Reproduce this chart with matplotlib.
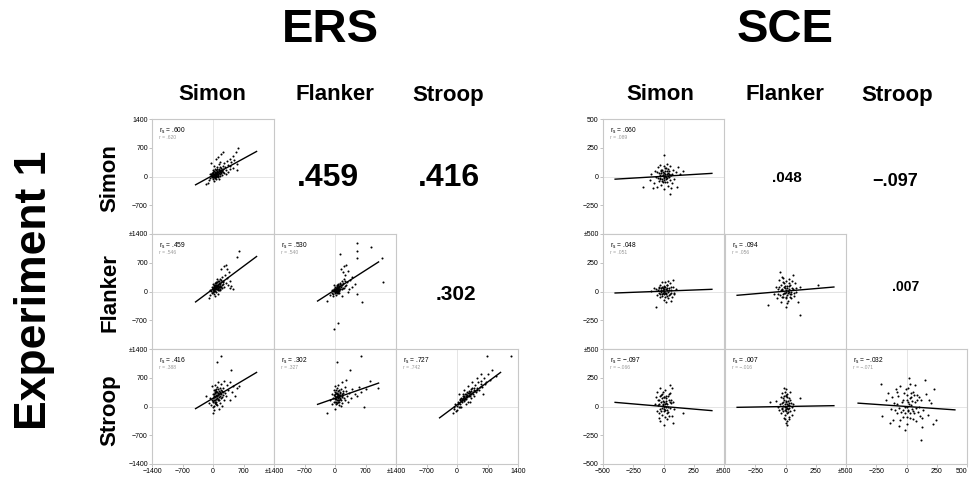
import matplotlib
matplotlib.use("Agg")
import matplotlib.pyplot as plt

plt.rcParams['font.family'] = ['Liberation Sans', 'DejaVu Sans']

tasks = ["Simon", "Flanker", "Stroop"]

# ---- ERS: points (x, y) per panel ----
ers_simon_simon = [(-100, -80), (-60, -40), (-30, 20), (0, -20), (20, 50), (40, 10), (60, 80), (80, 40),
                   (100, 120), (120, 60), (140, 150), (160, 100), (180, 200), (200, 140), (220, 260), (240, 180),
                   (260, 320), (280, 220), (300, 160), (320, 380), (350, 280), (380, 430), (400, 250), (420, 350),
                   (450, 500), (480, 400), (520, 600), (580, 690), (240, 600), (-50, 320), (0, 150), (30, -100),
                   (70, -50), (110, -10), (150, 20), (-20, 80), (10, 110), (50, 180), (90, 230), (130, 300),
                   (170, 360), (-80, 60), (-120, -150), (-150, -180), (200, 40), (250, 90), (300, 60), (350, 120),
                   (400, 180), (30, 250), (70, 420), (110, 480), (190, 550), (460, 200), (540, 150), (560, 300),
                   (0, 0), (20, 30), (40, -30), (60, 20), (80, 90), (100, 50), (120, 10), (140, -60), (-10, -60),
                   (-40, 10), (10, 60), (50, 100), (90, 140), (130, 190),
                   (5, 10), (15, -10), (25, 40), (35, 0), (45, 60), (55, 30), (65, -10), (75, 70), (85, 20),
                   (95, 90), (105, 10), (115, 110), (125, 40), (135, 90), (145, 170), (155, 60), (165, 130),
                   (175, 80), (185, 150), (195, 110), (-15, 30), (-25, -20), (-35, 50), (0, 90), (30, 130),
                   (60, 150), (90, 180), (150, 220), (210, 170), (230, 120)]
ers_flanker_simon = [(-100, -150), (-60, -80), (-40, 20), (-20, -40), (0, 60), (10, 0), (20, 100), (30, 40),
                     (40, 150), (50, 80), (60, -20), (70, 120), (80, 200), (90, 60), (100, 160), (110, 30),
                     (120, 250), (130, 110), (140, 180), (150, 70), (160, 300), (170, 140), (180, 220), (200, 90),
                     (210, 350), (220, 180), (240, 260), (260, 120), (280, 400), (300, 200), (320, 330), (340, 150),
                     (360, 480), (380, 260), (400, 90), (420, 130), (450, 60), (250, 620), (300, 640), (330, 560),
                     (190, 560), (600, 990), (540, 830), (30, -60), (-30, 110), (0, 180), (60, 230), (100, 300),
                     (-80, 40), (50, -100), (120, -50), (15, 20), (35, 70), (55, 10), (75, 50), (95, 100),
                     (115, 80), (135, 40), (65, 170), (25, 130), (145, 260), (165, 30), (-10, -10), (5, 40),
                     (5, 80), (15, 120), (25, 60), (45, 110), (65, 90), (85, 140), (105, 60), (125, 150),
                     (145, 100), (165, 190), (185, 120), (205, 160), (225, 230), (-5, 70), (20, 170), (40, 200),
                     (80, 100), (110, 130), (130, 210), (150, 140), (170, 100), (190, 280), (60, 130), (100, 220)]
ers_flanker_flanker = [(-176, -223), (-120, -80), (-80, -40), (-60, 30), (-40, -60), (-20, 60), (0, 0), (10, 100),
                       (20, -20), (30, 50), (40, 130), (50, 10), (60, 80), (70, 180), (80, 40), (90, 110),
                       (100, -30), (110, 200), (120, 70), (140, 150), (160, 250), (180, 90), (200, 300), (220, 130),
                       (240, 400), (260, 170), (280, 220), (300, 500), (320, 60), (350, 280), (400, 350), (450, 180),
                       (500, -50), (614, -247), (77, -774), (-15, -919), (115, 911), (514, 1170), (828, 1090),
                       (514, 992), (514, 806), (1074, 806), (1097, 239), (130, 560), (200, 620), (250, 650),
                       (190, 480), (-30, 150), (5, 40), (15, -80), (25, 20), (35, -40), (45, 90), (55, 160),
                       (65, -10), (75, 30), (85, 60), (95, 20), (-10, -30), (-50, -120), (150, -100), (300, 0),
                       (380, 100),
                       (0, 60), (10, 30), (20, 90), (30, 10), (40, 70), (50, 120), (60, 40), (70, 100), (80, 150),
                       (90, 70), (100, 130), (110, 60), (-20, 10), (-30, 70), (-40, 20), (120, 190), (130, 100),
                       (150, 60), (170, 150), (190, 200), (210, 80), (230, 260), (45, -20), (75, -40)]
ers_stroop_simon = [(-100, 80), (-60, 200), (-40, 40), (-20, 150), (0, 0), (0, 300), (10, 100), (20, 400),
                    (30, -80), (30, 220), (40, 520), (50, 160), (50, 320), (60, 60), (60, 250), (70, 420),
                    (80, 120), (80, 350), (90, 200), (100, 480), (100, 30), (110, 280), (120, 150), (120, 600),
                    (130, 380), (140, 240), (150, 80), (160, 450), (170, 320), (180, 200), (190, 550), (200, 20),
                    (200, 380), (220, 280), (240, 450), (250, 150), (260, 620), (280, 320), (300, 250), (320, 520),
                    (350, 400), (380, 150), (400, 600), (430, 350), (460, 500), (500, 250), (550, 450), (600, 500),
                    (406, 887), (184, 1235), (100, 1073), (-30, 500), (10, -150), (25, 250), (45, 100), (65, 380),
                    (85, 280), (105, 330), (-150, 260), (140, -50),
                    (20, 150), (30, 300), (40, 230), (50, 80), (55, 400), (60, 180), (70, 280), (75, 60),
                    (90, 360), (95, 250), (110, 190), (115, 420), (130, 300), (145, 170), (150, 350), (165, 260),
                    (175, 400), (190, 300), (210, 220), (230, 350), (0, 200), (-10, 130), (15, 20), (35, 350)]
ers_stroop_flanker = [(-184, -150), (-120, 150), (-80, 300), (-60, 50), (-40, 200), (-20, 400), (0, 100), (0, 250),
                      (10, -50), (20, 330), (30, 180), (40, 450), (50, 80), (60, 280), (70, 150), (80, 520),
                      (90, 220), (100, 30), (110, 350), (120, 180), (130, 420), (150, 260), (160, 80), (180, 320),
                      (200, 200), (220, 480), (240, 150), (260, 380), (280, 250), (300, 100), (330, 330), (360, 200),
                      (400, 420), (450, 300), (500, 250), (550, 480), (660, -12), (813, 620), (990, 458),
                      (606, 1227), (46, 1081), (353, 887), (150, 600), (250, 640), (-30, 120), (15, 60), (35, 300),
                      (55, 230), (75, 380), (95, 120), (115, 270), (135, 20), (-10, 500), (700, 420), (600, 350),
                      (0, 180), (10, 300), (20, 120), (25, 220), (30, 400), (40, 250), (45, 150), (50, 330),
                      (60, 200), (65, 100), (70, 300), (80, 250), (85, 400), (90, 160), (100, 280), (110, 200),
                      (120, 330), (140, 160), (150, 300), (170, 240), (190, 380), (-20, 280), (-10, 200), (5, 350)]
ers_stroop_stroop = [(-100, -150), (-60, -50), (-40, 50), (-20, -100), (0, 20), (20, 100), (40, -20), (60, 150),
                     (80, 60), (100, 200), (120, 100), (140, 250), (160, 130), (180, 300), (200, 180), (220, 350),
                     (240, 220), (260, 120), (280, 380), (300, 260), (320, 200), (340, 450), (360, 300), (380, 400),
                     (400, 250), (420, 520), (440, 350), (460, 450), (480, 600), (500, 400), (540, 550), (580, 480),
                     (620, 700), (660, 600), (700, 800), (750, 650), (800, 900), (900, 750), (679, 1235),
                     (1231, 1235), (150, 400), (250, 500), (350, 600), (450, 700), (100, 0), (200, 50), (300, 120),
                     (50, 300), (120, 180), (170, 220), (230, 280), (270, 330), (330, 380), (130, 300), (210, 260),
                     (290, 310), (70, 0), (10, -80), (-80, 0), (550, 800), (600, 300),
                     (50, 80), (90, 130), (110, 150), (130, 200), (150, 160), (170, 250), (190, 210), (210, 300),
                     (230, 250), (250, 330), (270, 250), (290, 350), (310, 300), (330, 430), (370, 350), (390, 450),
                     (410, 380), (470, 400), (520, 480), (560, 620), (640, 550), (30, 50), (80, 180), (180, 180)]

# ---- SCE ----
sce_simon_simon = [(-170, -88), (-115, -30), (-100, 20), (-80, -60), (-70, 50), (-60, 0), (-50, -90), (-45, 80),
                   (-40, 30), (-35, -40), (-30, 100), (-25, 10), (-20, -70), (-15, 60), (-10, -20), (-5, 40), (0, 0),
                   (0, -110), (5, 90), (10, 20), (15, -50), (20, 70), (25, -10), (30, 110), (35, 30), (40, -80),
                   (45, 50), (50, -30), (55, 90), (60, 10), (70, -60), (80, 60), (90, -20), (100, 40), (110, -90),
                   (120, 80), (140, 20), (160, 50), (3, 187), (57, -155), (-90, -100), (-20, 30), (8, -30), (12, 50),
                   (-8, 15), (18, -5), (28, 45), (-28, -15), (38, 5), (65, -100),
                   (-30, -20), (-18, 45), (-12, -35), (-3, 10), (2, -15), (6, 30), (14, 5), (22, -20), (26, 25),
                   (32, -45), (42, 20), (48, -5), (-42, -10), (-6, -50), (10, 70), (-24, 55), (34, 65), (52, 15),
                   (-55, 35), (70, 20)]
sce_flanker_simon = [(-60, -135), (-60, 20), (-50, -30), (-40, 40), (-35, -10), (-30, 60), (-25, -50), (-20, 10),
                     (-15, 80), (-10, -20), (-5, 30), (0, 0), (0, -70), (5, 50), (10, -10), (15, 81), (20, 20),
                     (25, -40), (30, 60), (35, 0), (40, -60), (45, 30), (50, -20), (55, 70), (60, 10), (70, -50),
                     (80, 40), (90, -10), (104, 20), (76, 97), (-80, 30), (-100, 5), (20, -93), (40, 90), (-12, 35),
                     (8, 25), (18, -25), (28, 15), (-22, -5), (62, -80),
                     (-45, 10), (-28, -20), (-18, 30), (-8, -10), (-2, 15), (3, -25), (7, 5), (12, 40), (22, -10),
                     (32, 30), (42, -30), (48, 10), (58, -15), (66, 35), (-35, 30), (13, -45), (-14, -40), (25, 55),
                     (85, -25), (0, 40)]
sce_flanker_flanker = [(-146, -115), (-97, -20), (-80, 40), (-70, -60), (-60, 20), (-50, 100), (-45, -30), (-40, 60),
                       (-35, -90), (-30, 10), (-25, 130), (-20, -50), (-15, 70), (-10, -10), (-5, 30), (0, 0),
                       (0, -135), (5, 90), (10, -30), (15, 50), (20, -80), (25, 20), (30, 110), (35, -20), (40, 60),
                       (45, -60), (50, 30), (60, 140), (70, -40), (80, 70), (90, 0), (100, -90), (122, 40),
                       (-48, 170), (266, 54), (116, -207), (10, -100), (-20, 120), (55, 95), (18, 5), (-8, 45),
                       (28, -5), (38, -45), (-28, 25),
                       (-38, 15), (-22, -25), (-12, 40), (-2, -15), (3, 15), (8, -45), (13, 30), (22, -10), (32, 45),
                       (42, 0), (48, -25), (-32, -45), (-52, 40), (62, 20), (72, -10), (-18, 80), (25, 75), (0, -60),
                       (-60, -20), (85, 30)]
sce_stroop_simon = [(-74, 20), (-60, 80), (-55, -40), (-50, 130), (-45, 10), (-40, -100), (-35, 60), (-30, 160),
                    (-25, -20), (-20, 40), (-15, 110), (-10, -70), (-5, 20), (0, 0), (0, -160), (5, 80), (10, 140),
                    (15, -30), (20, 50), (25, -110), (30, 20), (35, 90), (40, -50), (45, 60), (50, -10), (55, 120),
                    (60, 30), (70, -80), (80, 40), (90, -20), (57, 187), (71, 158), (164, -59), (76, -146),
                    (-12, 70), (8, -40), (18, 95), (28, -60), (-22, 100), (38, 0), (-30, -130), (12, 25), (-2, 50),
                    (-38, 20), (-28, 90), (-18, -40), (-8, 10), (-4, 130), (3, -20), (7, 40), (13, -90), (17, 30),
                    (23, 70), (33, -30), (43, 110), (48, -80), (52, 40), (-48, 60), (-15, -10), (0, 80), (22, -5),
                    (65, 60), (-35, -60)]
sce_stroop_flanker = [(-127, 42), (119, 71), (-45, 20), (-40, -60), (-35, 80), (-30, -10), (-25, 120), (-20, 40),
                      (-15, -100), (-10, 60), (-5, -30), (0, 0), (0, 150), (5, -140), (5, 90), (10, 20), (10, -60),
                      (15, 110), (20, -20), (20, 50), (25, -90), (30, 70), (30, -10), (35, 130), (40, -40), (45, 30),
                      (50, -70), (-60, 0), (-80, 50), (70, -30), (-10, 158), (10, -160), (2, 100), (-2, -110),
                      (8, 35), (-8, -5), (12, -15), (-18, 5), (25, 10), (60, 20),
                      (-28, 30), (-22, -40), (-12, 90), (-7, 20), (-3, -70), (3, 50), (7, -20), (13, 80), (17, -50),
                      (22, 10), (28, -110), (33, 30), (-33, -20), (-18, 70), (0, -40), (15, -130), (-5, 130),
                      (40, 60), (-50, -30), (55, 0)]
sce_stroop_stroop = [(-209, 193), (151, 230), (20, 245), (116, -290), (220, -152), (-200, -80), (-170, 60),
                     (-150, 120), (-130, -20), (-120, 80), (-110, -120), (-100, 30), (-90, 150), (-80, -60),
                     (-70, 90), (-60, -10), (-50, 180), (-40, 40), (-30, -90), (-20, 120), (-10, 0), (0, -150),
                     (0, 60), (10, 160), (15, -40), (20, 20), (25, 200), (30, -100), (40, 80), (45, -20), (50, 130),
                     (60, -60), (70, 40), (80, -130), (90, 100), (100, 0), (110, -80), (120, 60), (140, -30),
                     (160, 110), (180, -70), (200, 30), (230, 150), (240, -120), (-60, -170), (-10, -200), (70, 190),
                     (130, -180), (-140, -140), (190, 60), (5, 100), (-25, -30), (35, 10), (55, -110), (-45, -50),
                     (85, 60), (0, 0),
                     (-80, 20), (-50, -120), (-30, 60), (-15, -60), (-5, 150), (5, -90), (15, 40), (25, -60),
                     (35, 120), (45, 50), (55, -40), (65, 100), (75, -10), (95, -50), (105, 80), (125, -100),
                     (-95, -30), (-75, 130), (10, -30), (30, 70)]

# correlations: (row, col) -> text
ers_rs = {(0, 0): ".600", (1, 0): ".459", (1, 1): ".530", (2, 0): ".416", (2, 1): ".302", (2, 2): ".727"}
ers_r = {(0, 0): ".620", (1, 0): ".546", (1, 1): ".540", (2, 0): ".388", (2, 1): ".327", (2, 2): ".742"}
sce_rs = {(0, 0): ".060", (1, 0): ".048", (1, 1): ".094", (2, 0): "\u2212.097", (2, 1): ".007", (2, 2): "\u2212.032"}
sce_r = {(0, 0): ".089", (1, 0): ".051", (1, 1): ".056", (2, 0): "\u2212.066", (2, 1): "\u2212.016", (2, 2): "\u2212.071"}

# fitted lines: (slope, intercept)
ers_fit = {(0, 0): (0.58, 30), (1, 0): (0.79, 62), (1, 1): (0.68, 40),
           (2, 0): (0.63, 200), (2, 1): (0.37, 200), (2, 2): (0.79, 40)}
sce_fit = {(0, 0): (0.063, 2), (1, 0): (0.04, 3), (1, 1): (0.09, 3),
           (2, 0): (-0.09, 0), (2, 1): (0.018, 0), (2, 2): (-0.073, 0)}

ers_points = {(0, 0): ers_simon_simon, (1, 0): ers_flanker_simon, (1, 1): ers_flanker_flanker,
              (2, 0): ers_stroop_simon, (2, 1): ers_stroop_flanker, (2, 2): ers_stroop_stroop}
sce_points = {(0, 0): sce_simon_simon, (1, 0): sce_flanker_simon, (1, 1): sce_flanker_flanker,
              (2, 0): sce_stroop_simon, (2, 1): sce_stroop_flanker, (2, 2): sce_stroop_stroop}

W, H = 969, 480
fig = plt.figure(figsize=(W / 100, H / 100), dpi=100)


def px_axes(x0, y0, w, h):
    return fig.add_axes([x0 / W, 1 - (y0 + h) / H, w / W, h / H])


def fig_text(x, y, s, **kw):
    fig.text(x / W, 1 - y / H, s, ha='center', va='center', fontweight='bold', **kw)


def draw_block(lefts, width, lim, step, line_x, points, rs, r, fit):
    tops = [119, 234, 349]
    lim_s = str(lim)
    for (row, col), pts in points.items():
        ax = px_axes(lefts[col], tops[row], width, 115)
        ax.set_xlim(-lim, lim)
        ax.set_ylim(-lim, lim)
        ax.axhline(0, color='#e0e0e0', lw=0.6, zorder=0)
        ax.axvline(0, color='#e0e0e0', lw=0.6, zorder=0)
        xs = [p[0] for p in pts]
        ys = [p[1] for p in pts]
        ax.scatter(xs, ys, s=2.2, color='black', linewidths=0, zorder=2)
        a, b = fit[(row, col)]
        ax.plot(line_x, [a * line_x[0] + b, a * line_x[1] + b], color='black', lw=1.0, zorder=3)
        ax.text(0.06, 0.94, r'r$_{\rm s}$ = ' + rs[(row, col)], transform=ax.transAxes,
                fontsize=4.8, va='top', ha='left')
        ax.text(0.06, 0.86, 'r = ' + r[(row, col)], transform=ax.transAxes,
                fontsize=3.6, va='top', ha='left', color='#999999')
        for sp in ax.spines.values():
            sp.set_color('#c8c8c8')
            sp.set_linewidth(0.8)
        ax.tick_params(length=2, width=0.5, color='#aaaaaa', labelsize=5, pad=1)

        yt = [lim, step, 0, -step]
        yl = [lim_s if row == 0 else '\u00b1' + lim_s, str(step), '0', '\u2212' + str(step)]
        if row == 2:
            yt.append(-lim)
            yl.append('\u2212' + lim_s)
        if col == 0:
            ax.set_yticks(yt)
            ax.set_yticklabels(yl)
        else:
            ax.set_yticks([])
        if row == 2:
            xt = [-step, 0, step, lim]
            xl = ['\u2212' + str(step), '0', str(step), '\u00b1' + lim_s if col < 2 else lim_s]
            if col == 0:
                xt = [-lim] + xt
                xl = ['\u2212' + lim_s] + xl
            ax.set_xticks(xt)
            ax.set_xticklabels(xl)
            if col == 2 and lefts[col] + width > W - 10:
                # keep the last label inside the figure
                ax.get_xticklabels()[-1].set_horizontalalignment('right')
        else:
            ax.set_xticks([])


draw_block([152, 274, 396], 122, 1400, 700, [-400, 1000], ers_points, ers_rs, ers_r, ers_fit)
draw_block([603, 725, 846], 121, 500, 250, [-400, 400], sce_points, sce_rs, sce_r, sce_fit)

# headers
fig_text(330, 30, "ERS", fontsize=34)
fig_text(785, 30, "SCE", fontsize=34)
for cx, name in zip([212, 335, 448], tasks):
    fig_text(cx, 95, name, fontsize=16)
for cx, name in zip([660, 785, 897], tasks):
    fig_text(cx, 95, name, fontsize=16)
for cy, name in zip([178, 293, 410], tasks):
    fig_text(110, cy, name, fontsize=16, rotation=90)
fig_text(35, 290, "Experiment 1", fontsize=32, rotation=90)

# upper-triangle correlations
fig_text(328, 178, ers_rs[(1, 0)], fontsize=23)
fig_text(449, 178, ers_rs[(2, 0)], fontsize=23)
fig_text(456, 295, ers_rs[(2, 1)], fontsize=15)
fig_text(787, 178, sce_rs[(1, 0)], fontsize=11)
fig_text(895, 181, sce_rs[(2, 0)], fontsize=13)
fig_text(906, 287, sce_rs[(2, 1)], fontsize=10)

plt.savefig("out.png", dpi=100)
